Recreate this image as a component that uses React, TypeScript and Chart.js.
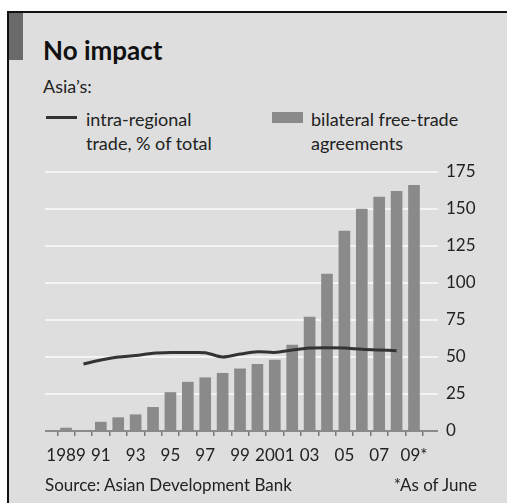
import React, { useEffect, useRef } from "react";
import { Chart, registerables } from "chart.js";

Chart.register(...registerables);

const years = [1989, 1990, 1991, 1992, 1993, 1994, 1995, 1996, 1997, 1998, 1999, 2000, 2001, 2002, 2003, 2004, 2005, 2006, 2007, 2008, 2009];
const tickLabels = ["1989", "", "91", "", "93", "", "95", "", "97", "", "99", "", "2001", "", "03", "", "05", "", "07", "", "09*"];
const agreements = [2, 0, 6, 9, 11, 16, 26, 33, 36, 39, 42, 45, 48, 58, 77, 106, 135, 150, 158, 162, 166];
const tradeShare: (number | null)[] = [null, 45.3, 48, 50, 51, 52.5, 53, 53, 52.9, 50, 52, 53.6, 53, 54.7, 56, 56.3, 56, 55.2, 54.7, 54.3, null];
const yTicks = [0, 25, 50, 75, 100, 125, 150, 175];

const FONT = "Lato, 'Open Sans', sans-serif";
const BG = "#dedede";
const INK = "#222";

export default function App() {
  const ref = useRef<HTMLCanvasElement | null>(null);

  useEffect(() => {
    if (!ref.current) return;
    const chart = new Chart(ref.current, {
      type: "bar",
      data: {
        datasets: [
          {
            type: "line",
            label: "intra-regional trade, % of total",
            data: years.map((y, i) => ({ x: y, y: tradeShare[i] })) as any,
            borderColor: "#333",
            borderWidth: 3,
            pointRadius: 0,
            tension: 0.3,
            spanGaps: false,
            order: 0,
          } as any,
          {
            type: "bar",
            label: "bilateral free-trade agreements",
            data: years.map((y, i) => ({ x: y, y: agreements[i] })) as any,
            backgroundColor: "#8a8a8a",
            barThickness: 11,
            order: 1,
          },
        ],
      },
      options: {
        animation: false,
        responsive: false,
        maintainAspectRatio: false,
        layout: { padding: { left: 45, top: 172, right: 0, bottom: 0 } },
        plugins: { legend: { display: false }, tooltip: { enabled: false } },
        scales: {
          x: {
            type: "linear",
            min: 1987.79,
            max: 2010.38,
            offset: false,
            afterFit: (s: any) => { s.height = 72; },
            afterBuildTicks: (s: any) => {
              s.ticks = years.map((v) => ({ value: v }));
            },
            ticks: {
              autoSkip: false,
              maxRotation: 0,
              minRotation: 0,
              includeBounds: false,
              padding: 9,
              color: INK,
              font: { family: FONT, size: 17 },
              callback: (v: any) => {
                const i = years.indexOf(Number(v));
                return i >= 0 ? tickLabels[i] : "";
              },
            },
            grid: { drawOnChartArea: false, drawTicks: true, tickLength: 5, color: "#7a7a7a", lineWidth: 1.5 },
            border: { display: false },
          },
          y: {
            position: "right",
            min: 0,
            max: 175,
            afterFit: (s: any) => { s.width = 69; },
            afterBuildTicks: (s: any) => {
              s.ticks = yTicks.map((v) => ({ value: v }));
            },
            ticks: {
              padding: 8,
              color: INK,
              font: { family: FONT, size: 17 },
            },
            grid: {
              drawTicks: false,
              lineWidth: 2,
              color: (ctx: any) => (ctx.tick && ctx.tick.value === 0 ? "#8a8a8a" : "#f4f4f4"),
            },
            border: { display: false },
          },
        },
      },
    });
    return () => chart.destroy();
  }, []);

  const text = (style: React.CSSProperties, content: React.ReactNode) => (
    <div style={{ position: "absolute", whiteSpace: "nowrap", fontFamily: FONT, color: INK, ...style }}>{content}</div>
  );

  return (
    <div style={{ position: "absolute", left: 0, top: 0, width: 507, height: 503, overflow: "hidden", background: "#fff" }}>
      <div
        style={{
          position: "absolute",
          left: 7,
          top: 11,
          width: 500,
          height: 492,
          background: BG,
          borderTop: "2px solid #111",
          borderLeft: "2px solid #111",
          boxSizing: "border-box",
        }}
      />
      <div style={{ position: "absolute", left: 9, top: 13, width: 14, height: 47, background: "#6a6a6a" }} />
      {text({ left: 43, top: 37, fontSize: 26, fontWeight: 700, lineHeight: "26px", color: "#111" }, "No impact")}
      {text({ left: 43, top: 77, fontSize: 18, lineHeight: "18px" }, "Asia\u2019s:")}
      <div style={{ position: "absolute", left: 46, top: 116, width: 31, height: 3, background: "#333" }} />
      {text({ left: 86, top: 107, fontSize: 18, lineHeight: "24px" }, <>intra-regional<br />trade, % of total</>)}
      <div style={{ position: "absolute", left: 272, top: 112, width: 31, height: 11, background: "#8a8a8a" }} />
      {text({ left: 311, top: 107, fontSize: 18, lineHeight: "24px" }, <>bilateral free-trade<br />agreements</>)}
      <canvas ref={ref} width={507} height={503} style={{ position: "absolute", left: 0, top: 0, width: 507, height: 503 }} />
      {text({ left: 45, top: 476, fontSize: 17, lineHeight: "17px" }, "Source: Asian Development Bank")}
      {text({ right: 30, top: 476, fontSize: 17, lineHeight: "17px" }, "*As of June")}
    </div>
  );
}
